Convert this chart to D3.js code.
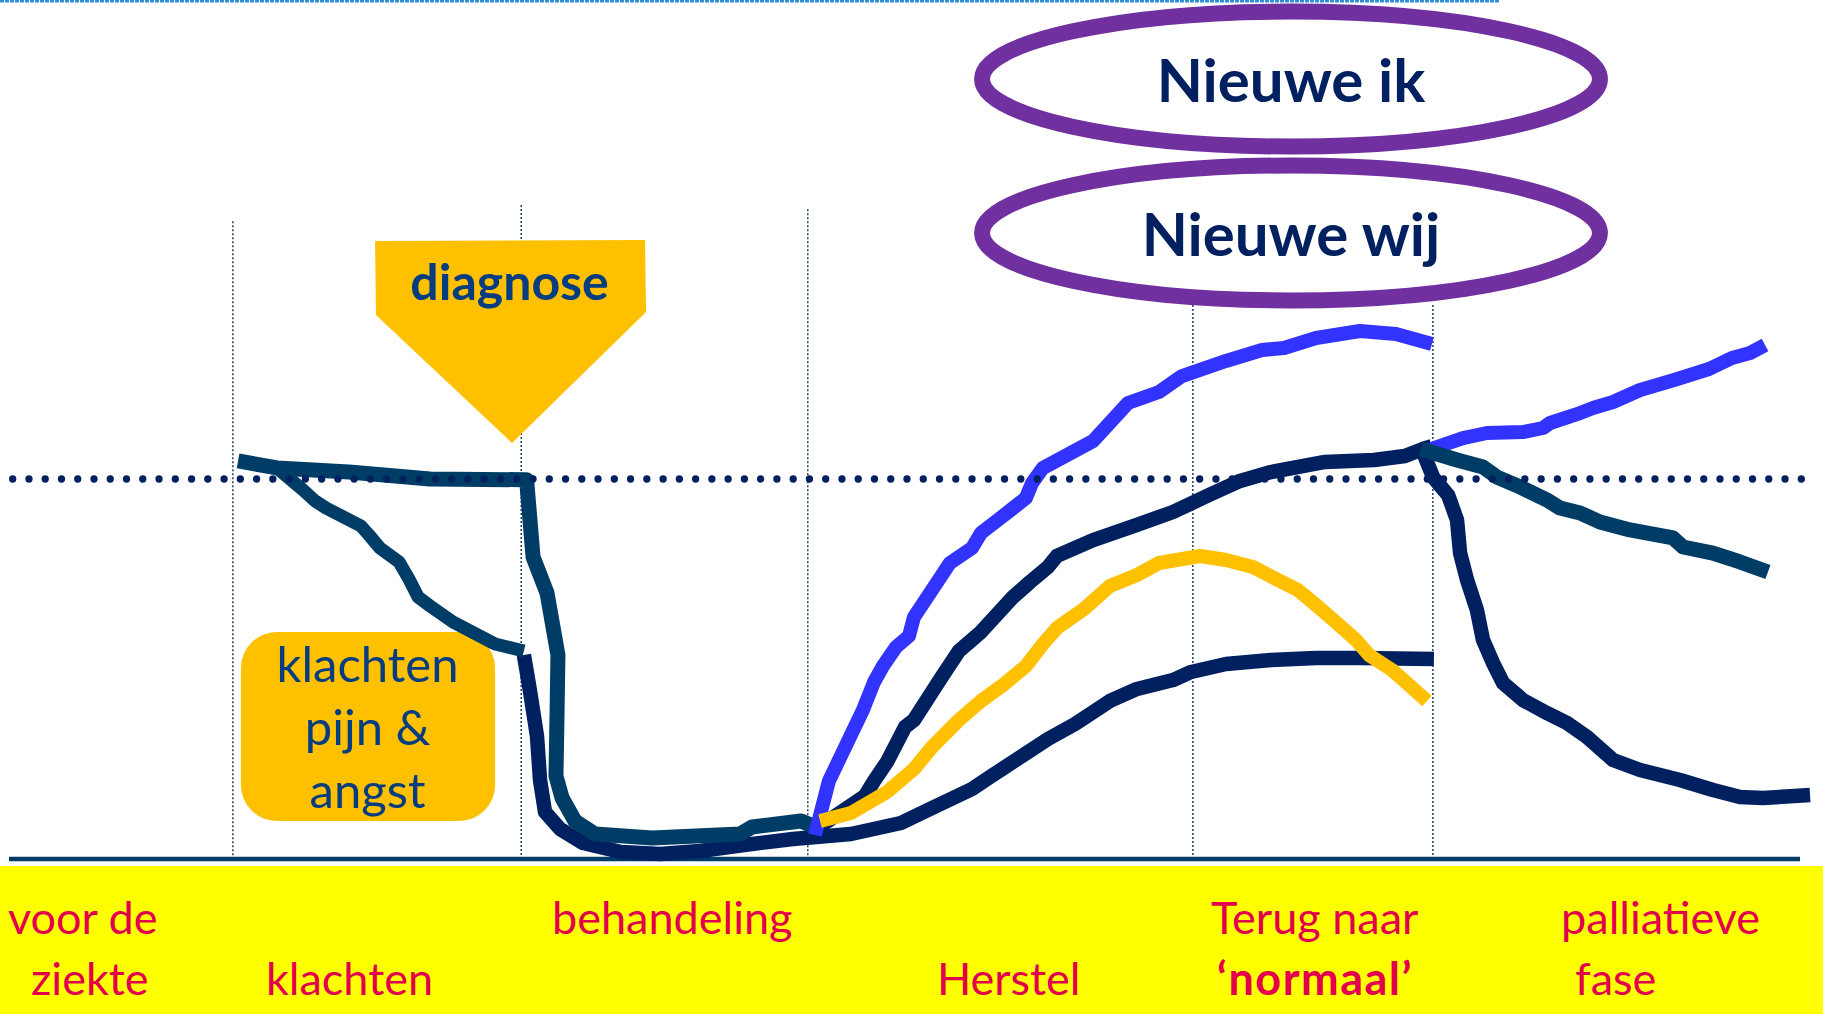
<!DOCTYPE html>
<html>
<head>
<meta charset="utf-8">
<script src="https://cdn.jsdelivr.net/npm/d3@7/dist/d3.min.js"></script>
<style>
  html, body { margin: 0; padding: 0; background: #ffffff; }
  svg { display: block; }
  text { font-family: Lato, "Open Sans", sans-serif; }
</style>
</head>
<body>
<svg id="chart" width="1823" height="1014"></svg>
<script>
// ---------- data (x = tijd 0..100, y = welzijn, 50 = "normaal") ----------
const faseGrenzen = [12.5, 28.6, 44.6, 66.1, 79.5];
const faseGrensTop = [83.9, 86.05, 85.5, 72.9, 72.9];
const normaalNiveau = 50;

const faseLabelsRegel1 = ["voor de", "behandeling", "Terug naar", "palliatieve"];
const faseLabelsRegel1X = [-0.06, 30.32, 67.11, 86.66];
const faseLabelsRegel2 = ["ziekte", "klachten", "Herstel", "\u2018normaal\u2019", "fase"];
const faseLabelsRegel2X = [1.23, 14.35, 51.81, 67.45, 87.44];
const faseLabelsRegel2Vet = [false, false, false, true, false];

// voor de ziekte: vlak, daarna val bij diagnose
const voorDeZiekte = [[12.79,52.37],[14.96,51.45],[18.98,50.92],[23.51,50.0],[28.9,49.9],[29.26,39.74],[30.04,35.0],[30.65,26.84],[30.60,19.21],[30.54,10.92],[30.88,8.03],[31.60,5.0],[32.72,3.29],[35.90,2.76],[40.82,3.29],[41.49,4.21],[44.22,5.0],[44.89,4.34]];
// klachten: geleidelijke daling
const klachtenDaling = [[14.96,51.45],[16.42,48.55],[17.09,47.11],[17.70,46.18],[19.65,43.82],[20.10,42.63],[20.71,40.92],[21.78,39.08],[22.33,36.84],[22.84,34.47],[23.51,33.29],[24.79,31.18],[27.14,28.29],[28.75,27.37]];
// behandeling -> laag herstel
const laagHerstel = [[28.75,26.84],[29.09,22.11],[29.48,16.18],[29.65,10.39],[29.93,6.18],[30.77,3.95],[32.05,2.11],[34.17,0.92],[36.35,0.66],[38.58,1.05],[41.04,1.84],[43.77,2.63],[47.01,3.29],[49.80,4.74],[51.54,6.71],[53.77,9.21],[54.77,10.79],[58.01,15.79],[59.52,17.76],[61.47,20.79],[62.98,22.37],[64.99,23.55],[66.00,24.61],[67.95,25.66],[70.46,26.18],[72.98,26.45],[75.43,26.45],[79.56,26.32]];
// herstel boven normaal (nieuwe ik)
const hoogHerstel = [[45.0,3.16],[45.78,10.26],[47.01,16.32],[47.68,19.61],[48.30,23.29],[48.80,25.39],[49.53,27.89],[50.25,29.34],[50.53,31.84],[52.54,38.95],[53.77,40.92],[54.27,42.89],[55.50,45.13],[56.78,47.50],[57.12,49.47],[57.73,51.45],[60.53,55.0],[62.48,60.0],[64.21,61.45],[65.49,63.55],[67.95,65.53],[69.96,66.97],[71.19,67.24],[72.98,68.55],[75.43,69.47],[77.44,69.08],[79.45,67.76]];
// herstel tot normaal
const middenHerstel = [[45.17,3.82],[45.56,4.74],[47.79,8.29],[48.30,10.26],[49.02,12.76],[50.03,17.37],[50.53,18.29],[52.04,23.82],[53.04,27.37],[54.27,29.87],[56.00,34.34],[57.01,36.45],[58.01,38.42],[58.51,39.87],[60.53,41.97],[62.98,43.95],[64.99,45.66],[67.00,47.89],[68.73,49.74],[70.46,50.92],[73.48,52.24],[76.21,52.50],[77.94,53.03],[78.95,53.95],[79.45,54.34]];
// herstel en terugval
const oranjeHerstel = [[45.28,5.0],[47.01,6.05],[49.02,8.82],[50.53,11.84],[51.54,14.74],[53.04,18.29],[54.27,20.79],[55.50,22.89],[56.78,25.39],[57.73,28.29],[58.51,30.39],[60.02,32.89],[61.47,35.92],[62.98,37.37],[64.21,38.95],[66.50,39.87],[67.95,39.34],[69.46,38.42],[70.74,36.84],[71.97,35.39],[72.98,33.42],[74.20,30.92],[75.21,28.82],[75.94,26.84],[77.22,24.87],[78.17,22.89],[79.17,20.79]];
// palliatieve fase
const palliatiefStijging = [[79.34,53.82],[79.73,54.21],[81.18,55.39],[82.52,56.05],[84.53,56.18],[85.65,56.71],[86.04,57.37],[87.72,58.68],[88.44,59.34],[89.56,60.13],[91.07,61.71],[92.97,63.03],[94.92,64.47],[96.20,65.92],[97.21,66.58],[98.05,67.63]];
const palliatiefGeleidelijk = [[78.84,53.95],[80.85,52.50],[82.30,51.58],[83.08,50.26],[84.37,48.95],[85.87,47.24],[86.60,46.18],[87.72,45.53],[88.83,44.34],[90.51,43.29],[92.91,42.24],[93.47,41.05],[95.14,40.26],[96.65,39.08],[98.21,37.76]];
const palliatiefSnel = [[78.95,53.55],[79.51,50.26],[80.35,47.89],[80.85,44.61],[81.02,40.26],[81.41,36.71],[81.96,32.76],[82.30,28.82],[82.86,25.79],[83.42,23.16],[84.53,20.92],[85.87,19.21],[86.99,17.89],[88.11,16.05],[89.56,13.03],[91.07,11.71],[93.30,10.39],[95.14,9.08],[96.65,8.16],[97.93,8.03],[100.56,8.42]];

// annotaties (in data-eenheden)
const diagnosePijl = [[20.44,81.32],[35.51,81.45],[35.57,71.97],[28.09,54.74],[20.49,71.58]];
const diagnoseLabel = {tekst: "diagnose", x: 27.95, y: 73.6};
const klachtenVak = {x0: 12.95, x1: 27.14, y0: 29.87, y1: 5.0};
const klachtenRegels = ["klachten", "pijn &", "angst"];
const klachtenRegelsY = [23.29, 15.0, 6.71];
const klachtenX = 20.02;
const ellipsLabels = ["Nieuwe ik", "Nieuwe wij"];
const ellipsMidden = [[71.58,102.63],[71.58,82.37]];
const ellipsBasislijn = [99.6, 79.4];
const ellipsStraal = [17.25, 8.88];

// ---------- drawing ----------
const W = 1823, H = 1014;
const svg = d3.select("#chart");
const x = d3.scaleLinear().domain([0, 100]).range([9, 1800]);
const y = d3.scaleLinear().domain([0, 50]).range([859, 479]);

const TEAL = "#003D66", NAVY = "#002060", BLUE = "#3333FF", ORANGE = "#FFC000",
      PURPLE = "#7030A0", YELLOW = "#FFFF00", PINK = "#E2004E", TEXTBLUE = "#053D80";

// top decorative line
svg.append("line").attr("x1", 0).attr("x2", 1500).attr("y1", 1).attr("y2", 1)
  .attr("stroke", "#2E8FD6").attr("stroke-width", 3).attr("stroke-dasharray", "4 1");

// yellow band
svg.append("rect").attr("x", 0).attr("y", y(0) + 7).attr("width", W).attr("height", H - y(0) - 7)
  .attr("fill", YELLOW);

// vertical phase dividers
svg.append("g").selectAll("line").data(faseGrenzen).join("line")
  .attr("x1", d => x(d)).attr("x2", d => x(d))
  .attr("y1", (d, i) => y(faseGrensTop[i])).attr("y2", y(0) - 2)
  .attr("stroke", "#1F3F66").attr("stroke-width", 1.5).attr("stroke-dasharray", "2 2");

// axis baseline
svg.append("line").attr("x1", x(0)).attr("x2", x(100)).attr("y1", y(0)).attr("y2", y(0))
  .attr("stroke", TEAL).attr("stroke-width", 4.5);

// diagnose arrow
svg.append("polygon")
  .attr("points", diagnosePijl.map(p => [x(p[0]), y(p[1])].join(",")).join(" "))
  .attr("fill", ORANGE);
svg.append("text").attr("x", x(diagnoseLabel.x)).attr("y", y(diagnoseLabel.y))
  .attr("text-anchor", "middle").attr("font-weight", 700).attr("font-size", 50)
  .attr("fill", TEXTBLUE).text(diagnoseLabel.tekst);

// klachten box
svg.append("rect")
  .attr("x", x(klachtenVak.x0)).attr("y", y(klachtenVak.y0))
  .attr("width", x(klachtenVak.x1) - x(klachtenVak.x0))
  .attr("height", y(klachtenVak.y1) - y(klachtenVak.y0))
  .attr("rx", 36).attr("fill", ORANGE);
svg.append("g").selectAll("text").data(klachtenRegels).join("text")
  .attr("x", x(klachtenX)).attr("y", (d, i) => y(klachtenRegelsY[i]))
  .attr("text-anchor", "middle").attr("font-size", 49).attr("fill", TEXTBLUE)
  .text(d => d);

// ellipses
const eg = svg.append("g");
eg.selectAll("ellipse").data(ellipsMidden).join("ellipse")
  .attr("cx", d => x(d[0])).attr("cy", d => y(d[1]))
  .attr("rx", x(ellipsStraal[0]) - x(0)).attr("ry", y(0) - y(ellipsStraal[1]))
  .attr("fill", "none").attr("stroke", PURPLE).attr("stroke-width", 16);
eg.selectAll("text").data(ellipsLabels).join("text")
  .attr("x", (d, i) => x(ellipsMidden[i][0])).attr("y", (d, i) => y(ellipsBasislijn[i]))
  .attr("text-anchor", "middle").attr("font-weight", 700).attr("font-size", 60)
  .attr("fill", NAVY).text(d => d);

// curves
const line = d3.line().x(d => x(d[0])).y(d => y(d[1])).curve(d3.curveLinear);
const curves = [
  {d: laagHerstel, c: NAVY, w: 14.5},
  {d: klachtenDaling, c: TEAL, w: 13},
  {d: voorDeZiekte, c: TEAL, w: 15},
  {d: middenHerstel, c: NAVY, w: 14.5},
  {d: hoogHerstel, c: BLUE, w: 14},
  {d: oranjeHerstel, c: ORANGE, w: 14},
  {d: palliatiefSnel, c: NAVY, w: 14.5},
  {d: palliatiefStijging, c: BLUE, w: 14},
  {d: palliatiefGeleidelijk, c: TEAL, w: 15}
];
svg.append("g").selectAll("path").data(curves).join("path")
  .attr("d", c => line(c.d)).attr("fill", "none")
  .attr("stroke", c => c.c).attr("stroke-width", c => c.w)
  .attr("stroke-linejoin", "round").attr("stroke-linecap", "butt");

// normaal dotted line
svg.append("line").attr("x1", 12.7).attr("x2", 1803).attr("y1", y(normaalNiveau)).attr("y2", y(normaalNiveau))
  .attr("stroke", NAVY).attr("stroke-width", 7.3).attr("stroke-linecap", "round")
  .attr("stroke-dasharray", "0 16.26");

// phase labels
svg.append("g").selectAll("text").data(faseLabelsRegel1).join("text")
  .attr("x", (d, i) => x(faseLabelsRegel1X[i])).attr("y", 934)
  .attr("font-size", 45).attr("fill", PINK).text(d => d);
svg.append("g").selectAll("text").data(faseLabelsRegel2).join("text")
  .attr("x", (d, i) => x(faseLabelsRegel2X[i])).attr("y", 995)
  .attr("font-size", 45).attr("font-weight", (d, i) => faseLabelsRegel2Vet[i] ? 700 : 400)
  .attr("letter-spacing", (d, i) => faseLabelsRegel2Vet[i] ? 1.5 : 0)
  .attr("fill", PINK).text(d => d);
</script>
</body>
</html>
